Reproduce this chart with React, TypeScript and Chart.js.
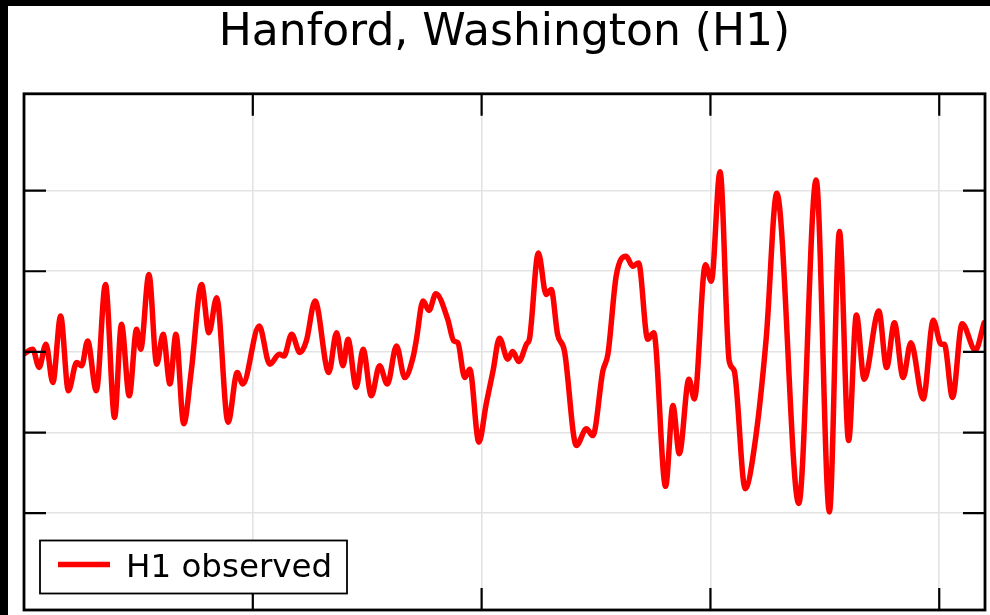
import React, { useEffect, useRef } from "react";
import { Chart, registerables } from "chart.js";

Chart.register(...registerables);

const chartTitle = "Hanford, Washington (H1)";
const seriesLabel = "H1 observed";

// time in seconds
const timeValues = [
  0.25, 0.2519, 0.2533, 0.2548, 0.2563, 0.258, 0.2597, 0.2615, 0.2626, 0.2639,
  0.2658, 0.2678, 0.2698, 0.2713, 0.273, 0.2746, 0.2755, 0.2773, 0.279, 0.2804,
  0.2819, 0.2832, 0.2849, 0.2866, 0.2888, 0.2904, 0.2921, 0.2946, 0.2966, 0.2978,
  0.3014, 0.3037, 0.3058, 0.3068, 0.3085, 0.3103, 0.3117, 0.3136, 0.3166, 0.3183,
  0.3197, 0.3208, 0.3226, 0.3241, 0.3259, 0.3277, 0.3294, 0.3314, 0.3332, 0.335,
  0.3357, 0.3372, 0.3385, 0.34, 0.3426, 0.3439, 0.3448, 0.3463, 0.3474, 0.3494,
  0.351, 0.3525, 0.3539, 0.3557, 0.3568, 0.3581, 0.3598, 0.3605, 0.3624, 0.3641,
  0.3652, 0.3666, 0.3681, 0.3707, 0.3729, 0.3743, 0.3765, 0.3776, 0.3794, 0.3816,
  0.383, 0.3843, 0.3863, 0.3876, 0.3902, 0.3918, 0.3932, 0.3953, 0.3965, 0.3989,
  0.4002, 0.4021, 0.4041, 0.4052, 0.4076, 0.4096, 0.4122, 0.4145, 0.4193, 0.4231,
  0.426, 0.4282, 0.4302, 0.4319, 0.4336, 0.4368, 0.4385, 0.4402, 0.4421, 0.4438,
  0.4465, 0.4487, 0.4504, 0.4511, 0.4529, 0.455, 0.4579, 0.4598,
];

// strain (x 1e-21)
const strainValues = [
  -0.012, 0.017, -0.096, 0.048, -0.19, 0.222, -0.241, -0.066, -0.086, 0.068,
  -0.241, 0.418, -0.406, 0.171, -0.272, 0.14, 0.017, 0.48, -0.076, 0.109,
  -0.199, 0.109, -0.446, -0.107, 0.418, 0.119, 0.335, -0.436, -0.128, -0.199,
  0.16, -0.076, -0.014, -0.025, 0.109, -0.004, 0.068, 0.315, -0.128, 0.119,
  -0.086, 0.078, -0.22, 0.017, -0.272, -0.086, -0.199, 0.037, -0.159, -0.035,
  0.068, 0.315, 0.257, 0.36, 0.202, 0.068, 0.057, -0.159, -0.107, -0.56,
  -0.323, -0.117, 0.085, -0.045, 0.002, -0.06, 0.048, 0.088, 0.613, 0.356,
  0.387, 0.109, 0.006, -0.58, -0.477, -0.519, -0.117, -0.014, 0.469, 0.593,
  0.531, 0.551, 0.078, 0.119, -0.833, -0.333, -0.631, -0.169, -0.292, 0.541,
  0.438, 1.117, -0.056, -0.117, -0.848, -0.591, 0.088, 0.983, -0.94, 1.066,
  -0.992, 0.747, -0.549, 0.228, -0.169, 0.253, -0.097, 0.181, -0.159, 0.057,
  -0.292, 0.196, 0.048, 0.048, -0.282, 0.175, 0.01, 0.181,
];

const xTicks = [0.3, 0.35, 0.4, 0.45];
const yTicks = [-1.0, -0.5, 0.0, 0.5, 1.0];
const xLimits = [0.25, 0.46];
const yLimits = [-1.6, 1.6];

const FONT = "'DejaVu Sans', 'Liberation Sans', sans-serif";

const framePlugin = {
  id: "frameTicks",
  afterDatasetsDraw(chart: any) {
    const { ctx, chartArea: ca, scales } = chart;
    ctx.save();
    ctx.strokeStyle = "#000";
    ctx.lineWidth = 2.2;
    const len = 22;
    ctx.beginPath();
    for (const v of xTicks) {
      const px = scales.x.getPixelForValue(v);
      ctx.moveTo(px, ca.top);
      ctx.lineTo(px, ca.top + len);
      ctx.moveTo(px, ca.bottom);
      ctx.lineTo(px, ca.bottom - len);
    }
    for (const v of yTicks) {
      const py = scales.y.getPixelForValue(v);
      ctx.moveTo(ca.left, py);
      ctx.lineTo(ca.left + len, py);
      ctx.moveTo(ca.right, py);
      ctx.lineTo(ca.right - len, py);
    }
    ctx.stroke();
    ctx.lineWidth = 2.8;
    ctx.strokeRect(ca.left, ca.top, ca.right - ca.left, ca.bottom - ca.top);
    ctx.restore();
  },
};

const legendBoxPlugin = {
  id: "legendBox",
  afterDraw(chart: any) {
    const { ctx, chartArea: ca } = chart;
    const ds = chart.data.datasets[0];
    const left = ca.left + 16;
    const bottom = ca.bottom - 16.5;
    const w = 307;
    const h = 53;
    const top = bottom - h;
    ctx.save();
    ctx.fillStyle = "#fff";
    ctx.fillRect(left, top, w, h);
    ctx.strokeStyle = "#000";
    ctx.lineWidth = 1.8;
    ctx.strokeRect(left, top, w, h);
    ctx.strokeStyle = ds.borderColor;
    ctx.lineWidth = 5.5;
    ctx.lineCap = "butt";
    ctx.beginPath();
    ctx.moveTo(left + 18, top + 24);
    ctx.lineTo(left + 70, top + 24);
    ctx.stroke();
    ctx.fillStyle = "#000";
    ctx.font = `32.5px ${FONT}`;
    ctx.textBaseline = "alphabetic";
    ctx.textAlign = "left";
    ctx.fillText(ds.label, left + 86, top + 36);
    ctx.restore();
  },
};

export default function App() {
  const canvasRef = useRef<HTMLCanvasElement | null>(null);

  useEffect(() => {
    const canvas = canvasRef.current;
    if (!canvas) return;
    const points = timeValues.map((t, i) => ({ x: t, y: strainValues[i] }));
    const chart = new Chart(canvas, {
      type: "line",
      data: {
        datasets: [
          {
            label: seriesLabel,
            data: points,
            borderColor: "#ff0000",
            borderWidth: 5.5,
            pointRadius: 0,
            cubicInterpolationMode: "monotone",
            borderJoinStyle: "round",
            borderCapStyle: "round",
            fill: false,
          },
        ],
      },
      options: {
        animation: false,
        responsive: false,
        devicePixelRatio: 1,
        parsing: false,
        layout: { padding: { left: 16, right: 5, top: 1, bottom: 5 } },
        plugins: {
          legend: { display: false },
          tooltip: { enabled: false },
          title: {
            display: true,
            text: chartTitle,
            color: "#000",
            font: { family: FONT, size: 44, weight: "normal" },
            padding: { top: 0, bottom: 34 },
          },
        },
        scales: {
          x: {
            type: "linear",
            min: xLimits[0],
            max: xLimits[1],
            afterBuildTicks: (scale: any) => {
              scale.ticks = xTicks.map((v) => ({ value: v }));
            },
            ticks: { display: false },
            grid: { color: "#e3e3e3", lineWidth: 1.6, drawTicks: false },
            border: { display: false },
          },
          y: {
            type: "linear",
            min: yLimits[0],
            max: yLimits[1],
            afterBuildTicks: (scale: any) => {
              scale.ticks = yTicks.map((v) => ({ value: v }));
            },
            ticks: { display: false },
            grid: { color: "#e3e3e3", lineWidth: 1.6, drawTicks: false },
            border: { display: false },
          },
        },
      },
      plugins: [framePlugin, legendBoxPlugin],
    } as any);
    return () => chart.destroy();
  }, []);

  return (
    <div
      style={{
        position: "fixed",
        left: 0,
        top: 0,
        width: 990,
        height: 615,
        background: "#000",
        overflow: "hidden",
      }}
    >
      <div
        style={{
          position: "absolute",
          left: 8,
          top: 6,
          width: 982,
          height: 609,
          background: "#fff",
        }}
      >
        <canvas
          ref={canvasRef}
          width={982}
          height={609}
          style={{ display: "block", width: 982, height: 609 }}
        />
      </div>
    </div>
  );
}
